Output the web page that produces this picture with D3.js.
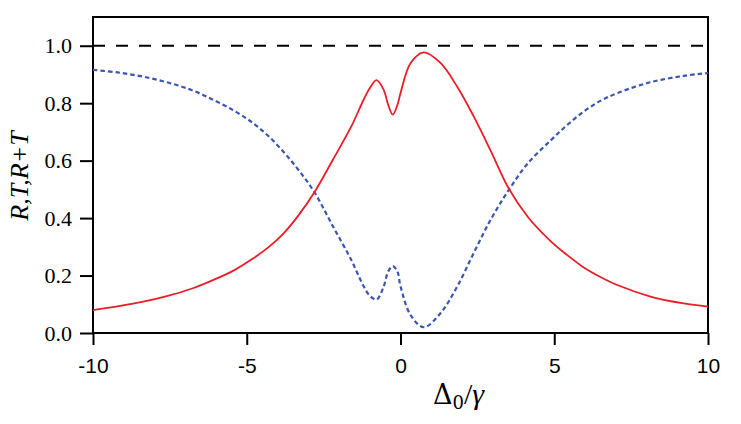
<!DOCTYPE html>
<html><head><meta charset="utf-8">
<script src="https://cdn.jsdelivr.net/npm/d3@7/dist/d3.min.js"></script>
<style>body{margin:0;background:#fff}svg{display:block}</style>
</head><body>
<svg id="chart" width="741" height="424"></svg>
<script>
const detuning = [-10, -9.2, -8.4, -7.6, -6.8, -6.1, -5.4, -4.8, -4.3, -3.8, -3.3, -2.8, -2.2, -1.6, -1.2, -1.0, -0.78, -0.55, -0.4, -0.25, -0.1, 0, 0.33, 0.76, 1.3, 1.84, 2.38, 2.93, 3.52, 4.15, 4.88, 5.4, 5.96, 6.5, 7.05, 8.13, 9.21, 10];
const reflection = [0.080, 0.093, 0.108, 0.128, 0.154, 0.184, 0.219, 0.259, 0.298, 0.347, 0.412, 0.490, 0.603, 0.719, 0.812, 0.852, 0.880, 0.847, 0.794, 0.760, 0.794, 0.835, 0.940, 0.977, 0.940, 0.858, 0.754, 0.635, 0.503, 0.403, 0.320, 0.273, 0.228, 0.195, 0.167, 0.127, 0.103, 0.092];
const transmission = [0.916, 0.907, 0.893, 0.873, 0.846, 0.812, 0.773, 0.731, 0.686, 0.630, 0.565, 0.490, 0.372, 0.254, 0.163, 0.130, 0.116, 0.161, 0.214, 0.233, 0.214, 0.163, 0.062, 0.020, 0.069, 0.161, 0.278, 0.394, 0.498, 0.592, 0.670, 0.722, 0.771, 0.808, 0.835, 0.873, 0.895, 0.905];
const total = [1.0, 1.0];
const totalX = [-10, 10];
const xTicks = [-10, -5, 0, 5, 10];
const yTicks = [0.0, 0.2, 0.4, 0.6, 0.8, 1.0];

const svg = d3.select("#chart");
const L = 93, R = 708, T = 17, B = 333;
const x = d3.scaleLinear().domain([-10, 10]).range([L, R]);
const y = d3.scaleLinear().domain([0, 1.1]).range([B, T]);

svg.append("rect").attr("x", L).attr("y", T).attr("width", R - L).attr("height", B - T)
  .attr("fill", "none").attr("stroke", "#000").attr("stroke-width", 2);

const xAxis = svg.append("g").attr("transform", `translate(0,${B})`)
  .call(d3.axisBottom(x).tickValues(xTicks).tickSize(12).tickPadding(13).tickFormat(d => String(d)));
xAxis.select(".domain").remove();
xAxis.selectAll("line").attr("stroke-width", 2);
xAxis.selectAll("text").style("font-family", "'Liberation Sans', Arial, sans-serif").style("font-size", "21px").attr("fill", "#000");

const yAxis = svg.append("g").attr("transform", `translate(${L},0)`)
  .call(d3.axisLeft(y).tickValues(yTicks).tickSize(13).tickPadding(8).tickFormat(d3.format(".1f")));
yAxis.select(".domain").remove();
yAxis.selectAll("line").attr("stroke-width", 2);
yAxis.selectAll("text").style("font-family", "'Liberation Serif', 'Times New Roman', serif").style("font-size", "22px").attr("fill", "#000");

const totalData = totalX.map((v, i) => ({x: v, y: total[i]}));
svg.append("path").datum(totalData)
  .attr("d", d3.line().x(d => x(d.x)).y(d => y(d.y)))
  .attr("fill", "none").attr("stroke", "#000").attr("stroke-width", 2).attr("stroke-dasharray", "12,11");

const line = d3.line().x(d => x(d[0])).y(d => y(d[1])).curve(d3.curveCatmullRom.alpha(0.5));

svg.append("path").datum(detuning.map((d, i) => [d, transmission[i]]))
  .attr("d", line).attr("fill", "none").attr("stroke", "#3a55b4").attr("stroke-width", 2.2)
  .attr("stroke-dasharray", "4.5,3");

svg.append("path").datum(detuning.map((d, i) => [d, reflection[i]]))
  .attr("d", line).attr("fill", "none").attr("stroke", "#ee1c25").attr("stroke-width", 1.8);

svg.append("text").attr("transform", "translate(28,176) rotate(-90)")
  .attr("text-anchor", "middle").style("font-family", "'Liberation Serif', 'Times New Roman', serif")
  .attr("font-style", "italic").style("font-size", "26px").text("R,T,R+T");

const xt = svg.append("text").attr("x", 433).attr("y", 404)
  .style("font-family", "'DejaVu Serif', serif").style("font-size", "27px");
xt.append("tspan").text("Δ");
xt.append("tspan").style("font-size", "18px").attr("dy", 5).text("0");
xt.append("tspan").attr("dy", -5).style("font-family", "'Liberation Serif', serif").style("font-size", "30px").text("/");
xt.append("tspan").style("font-family", "'Liberation Serif', serif").attr("font-style", "italic").style("font-size", "30px").text("γ");
</script>
</body></html>
